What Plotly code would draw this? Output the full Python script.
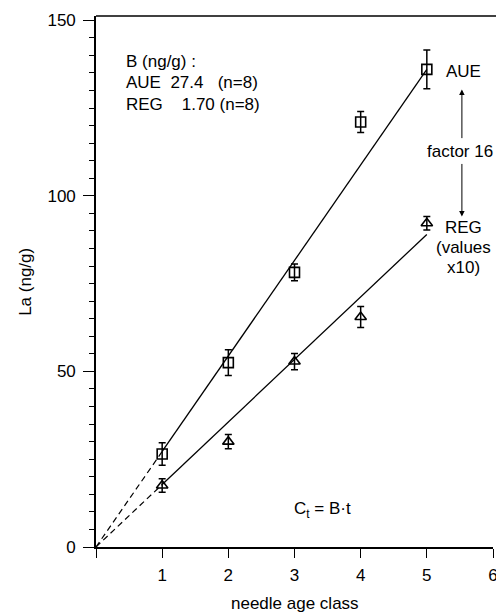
import plotly.graph_objects as go

# data
age = [1, 2, 3, 4, 5]
aue = [26.5, 52.5, 78.2, 121, 136]
aue_err = [3.2, 3.7, 2.4, 3.0, 5.5]
reg = [17.5, 30.0, 52.8, 65.5, 92.2]
reg_err = [1.9, 2.0, 2.3, 3.0, 1.9]

# regression lines C_t = B*t (dashed part 0..1, solid 1..5)
fit_dash_x = [0, 1]
fit_solid_x = [1, 5]
aue_slope = 27.2
reg_slope = 17.8

x_ticks = [0, 1, 2, 3, 4, 5, 6]
x_ticktext = ["", "1", "2", "3", "4", "5", "6"]
y_ticks = [0, 50, 100, 150]

FONT = "Liberation Sans, Arial, Helvetica, sans-serif"
FS = 17

fig = go.Figure()

for slope in (aue_slope, reg_slope):
    fig.add_trace(go.Scatter(x=fit_dash_x, y=[slope * v for v in fit_dash_x], mode="lines",
                             line=dict(color="black", width=1.2, dash="6px,4px"), showlegend=False))
    fig.add_trace(go.Scatter(x=fit_solid_x, y=[slope * v for v in fit_solid_x], mode="lines",
                             line=dict(color="black", width=1.3), showlegend=False))

fig.add_trace(go.Scatter(x=age, y=aue, mode="markers",
                         marker=dict(symbol="square-open", size=10, color="black", line=dict(width=1.6)),
                         error_y=dict(type="data", array=aue_err, color="black", thickness=1.5, width=3.5),
                         showlegend=False))
fig.add_trace(go.Scatter(x=age, y=reg, mode="markers",
                         marker=dict(symbol="triangle-up-open", size=10, color="black", line=dict(width=1.6)),
                         error_y=dict(type="data", array=reg_err, color="black", thickness=1.5, width=3.5),
                         showlegend=False))


def txt(x, y, t, xa="left"):
    fig.add_annotation(x=x, y=y, xref="x", yref="y", text=t, showarrow=False,
                       xanchor=xa, yanchor="middle", font=dict(family=FONT, size=FS, color="black"))


# top-left legend text
txt(0.43, 138.3, "B (ng/g) :")
txt(0.43, 132.3, "AUE  27.4   (n=8)")
txt(0.43, 126.0, "REG    1.70 (n=8)")

# right side labels
txt(5.55, 135.3, "AUE", xa="center")
txt(5.5, 112.6, "factor 16", xa="center")
txt(5.55, 91.0, "REG", xa="center")
txt(5.55, 85.3, "(values", xa="center")
txt(5.55, 79.6, "x10)", xa="center")
txt(3.42, 10.6, "C<sub>t</sub> = B·t", xa="center")

# arrows
fig.add_annotation(x=5.53, y=130.3, ax=5.53, ay=116.0, xref="x", yref="y", axref="x", ayref="y",
                   text="", showarrow=True, arrowhead=2, arrowsize=1.1, arrowwidth=1, arrowcolor="black")
fig.add_annotation(x=5.53, y=94.1, ax=5.53, ay=109.5, xref="x", yref="y", axref="x", ayref="y",
                   text="", showarrow=True, arrowhead=2, arrowsize=1.1, arrowwidth=1, arrowcolor="black")

# axis titles
fig.add_annotation(x=0.5, y=-0.107, xref="paper", yref="paper", text="needle age class", showarrow=False,
                   xanchor="center", yanchor="middle", font=dict(family=FONT, size=FS, color="black"))
fig.add_annotation(x=-0.178, y=0.5, xref="paper", yref="paper", text="La (ng/g)", showarrow=False,
                   textangle=-90, xanchor="center", yanchor="middle",
                   font=dict(family=FONT, size=FS, color="black"))

# top frame line
fig.add_shape(type="line", xref="paper", yref="paper", x0=0, x1=1.02, y0=1, y1=1,
              line=dict(color="black", width=1.5))

fig.update_layout(
    width=496, height=615,
    margin=dict(l=96, r=3, t=16, b=68, autoexpand=False),
    paper_bgcolor="white", plot_bgcolor="white",
    font=dict(family=FONT, size=FS, color="black"),
    showlegend=False,
)
fig.update_xaxes(range=[0, 6], tickvals=x_ticks, ticktext=x_ticktext, ticks="outside", ticklen=9,
                 tickwidth=1.2, tickcolor="black", showline=True, linecolor="black", linewidth=1.6,
                 showgrid=False, zeroline=False, ticklabelstandoff=3, ticklabeloverflow="allow",
                 automargin=False)
fig.update_yaxes(range=[0, 151.2], tickvals=y_ticks, ticks="outside", ticklen=11, tickwidth=1.2,
                 tickcolor="black", showline=True, linecolor="black", linewidth=1.6, showgrid=False,
                 zeroline=False, ticklabelstandoff=4, automargin=False,
                 minor=dict(dtick=5, ticks="outside", ticklen=5, tickwidth=1, tickcolor="black"))

fig.write_html("out.html", config={"displayModeBar": False},
               post_script="document.body.style.margin='0';document.body.style.overflow='hidden';")
